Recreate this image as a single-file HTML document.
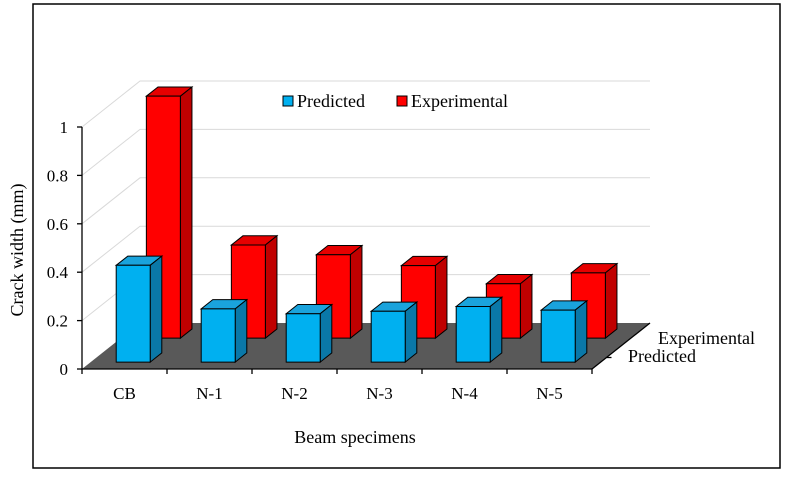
<!DOCTYPE html>
<html><head><meta charset="utf-8"><style>
body{margin:0;background:#fff;}
svg text{font-family:"Liberation Serif",serif;fill:#000;}
</style></head><body>
<svg id="chart" width="786" height="475" viewBox="0 0 786 475">
<rect x="33" y="4" width="747" height="464" fill="#fff" stroke="#000" stroke-width="1.5"/>
<g id="grid"></g><g id="floor"></g><g id="bars"></g><g id="axis"></g>
<text transform="translate(23,250) rotate(-90)" text-anchor="middle" font-size="18">Crack width (mm)</text>
<text x="355" y="443" text-anchor="middle" font-size="18">Beam specimens</text>
<text x="658" y="344" font-size="18">Experimental</text>
<text x="628" y="362" font-size="18">Predicted</text>
<g>
<rect x="283" y="96" width="10" height="10" fill="#00b0f0" stroke="#000"/>
<text x="297" y="107" font-size="18">Predicted</text>
<rect x="397" y="96" width="10" height="10" fill="#ff0000" stroke="#000"/>
<text x="411" y="107" font-size="18">Experimental</text>
</g>
</svg>
<script>
const categories=["CB","N-1","N-2","N-3","N-4","N-5"];
const predicted=[0.40,0.22,0.20,0.21,0.23,0.215];
const experimental=[1.0,0.385,0.345,0.30,0.225,0.27];
const yTicks=[0,0.2,0.4,0.6,0.8,1];
const NS="http://www.w3.org/2000/svg";
const X0=82,Y0=369,PX=242,CW=85,DX=58,DY=46,BW=34;
function y(v){return Y0-v*PX;}
function cx(i){return X0+CW*i+CW/2;}
function P(x,yy,t){return [x+DX*t,yy-DY*t];}
function poly(g,pts,fill,name){const p=document.createElementNS(NS,'polygon');p.setAttribute('points',pts.map(a=>a.join(',')).join(' '));p.setAttribute('fill',fill);p.setAttribute('stroke','#000');p.setAttribute('stroke-width','1');


g.appendChild(p);return p;}
const grid=document.getElementById('grid');
yTicks.forEach(v=>{if(v===0)return;const a=P(X0,y(v),0),b=P(X0,y(v),1);
const l=document.createElementNS(NS,'polyline');l.setAttribute('points',`${a} ${b} ${X0+CW*6+DX},${b[1]}`);l.setAttribute('fill','none');l.setAttribute('stroke','#d9d9d9');


grid.appendChild(l);});
const fl=document.getElementById('floor');
const xr=X0+CW*6;
const fp=poly(fl,[P(X0,Y0,0),P(xr,Y0,0),P(xr,Y0,1),P(X0,Y0,1)],'#595959','floor');fp.setAttribute('stroke','none');
const bars=document.getElementById('bars');
function bar(i,v,t0,t1,front,side,top,name){const x1=cx(i)-BW/2,x2=x1+BW,yt=y(v);
const g=document.createElementNS(NS,'g');


bars.appendChild(g);
poly(g,[P(x1,yt,t0),P(x2,yt,t0),P(x2,yt,t1),P(x1,yt,t1)],top,name+'-top');
poly(g,[P(x2,Y0,t0),P(x2,yt,t0),P(x2,yt,t1),P(x2,Y0,t1)],side,name+'-side');
poly(g,[P(x1,Y0,t0),P(x2,Y0,t0),P(x2,yt,t0),P(x1,yt,t0)],front,name+'-front');}
for(let i=categories.length-1;i>=0;i--)bar(i,experimental[i],0.67,0.87,'#ff0000','#c00000','#e60000','bar-experimental-'+categories[i]);
for(let i=categories.length-1;i>=0;i--)bar(i,predicted[i],0.15,0.35,'#00b0f0','#0a78a8','#1aa3dc','bar-predicted-'+categories[i]);
const ax=document.getElementById('axis');
function line(x1,y1,x2,y2,name){const l=document.createElementNS(NS,'line');l.setAttribute('x1',x1);l.setAttribute('y1',y1);l.setAttribute('x2',x2);l.setAttribute('y2',y2);l.setAttribute('stroke','#000');l.setAttribute('stroke-width','1.3');


ax.appendChild(l);}
line(X0,Y0,X0,y(1),'y-axis');line(X0,Y0,xr,Y0,'x-axis');line(xr,Y0,xr+DX,Y0-DY,'depth-axis');
line(xr+DX*0.25,Y0-DY*0.25,xr+DX*0.25+5,Y0-DY*0.25,'depth-tick');
yTicks.forEach(v=>{line(X0-5,y(v),X0,y(v),'y-tick');const t=document.createElementNS(NS,'text');t.setAttribute('x',X0-14);t.setAttribute('y',y(v)+6);t.setAttribute('text-anchor','end');t.setAttribute('font-size','17');t.textContent=String(v);


ax.appendChild(t);});
for(let i=0;i<=categories.length;i++)line(X0+CW*i,Y0,X0+CW*i,Y0+5,'x-tick');
categories.forEach((c,i)=>{const t=document.createElementNS(NS,'text');t.setAttribute('x',cx(i));t.setAttribute('y',399);t.setAttribute('text-anchor','middle');t.setAttribute('font-size','17');t.textContent=c;


ax.appendChild(t);});
</script>
</body></html>
